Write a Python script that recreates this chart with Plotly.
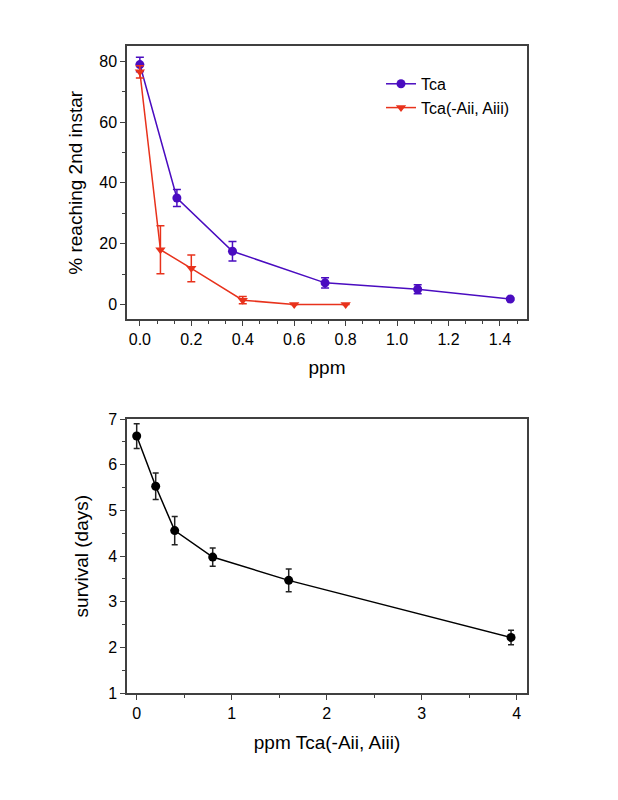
import plotly.graph_objects as go

# ---- data: top panel ----
tca_x = [0, 0.144, 0.36, 0.72, 1.08, 1.44]
tca_y = [78.9, 35.0, 17.5, 7.1, 5.0, 1.8]
tca_err = [2.4, 2.8, 3.2, 1.7, 1.5, 0.3]

tcam_x = [0, 0.08, 0.2, 0.4, 0.6, 0.8]
tcam_y = [76.5, 18.0, 11.9, 1.4, 0.0, 0.0]
tcam_err = [2.0, 7.9, 4.4, 1.2, 0, 0]

# ---- data: bottom panel ----
surv_x = [0, 0.2, 0.4, 0.8, 1.6, 3.94]
surv_y = [6.63, 5.53, 4.56, 3.98, 3.47, 2.22]
surv_err = [0.27, 0.29, 0.31, 0.2, 0.25, 0.16]

PURPLE = "#4a0cc0"
RED = "#e8321c"
FONT = "Liberation Sans, Arial, sans-serif"
AX = "#404040"

fig = go.Figure()
fig.add_trace(go.Scatter(
    x=tca_x, y=tca_y, name="Tca", mode="lines+markers",
    line=dict(color=PURPLE, width=1.5),
    marker=dict(symbol="circle", size=9, color=PURPLE),
    error_y=dict(type="data", array=tca_err, color=PURPLE, thickness=1.5, width=4),
    xaxis="x", yaxis="y"))
fig.add_trace(go.Scatter(
    x=tcam_x, y=tcam_y, name="Tca(-Aii, Aiii)", mode="lines+markers",
    line=dict(color=RED, width=1.5),
    marker=dict(symbol="triangle-down", size=9, color=RED),
    error_y=dict(type="data", array=tcam_err, color=RED, thickness=1.5, width=4),
    xaxis="x", yaxis="y"))
fig.add_trace(go.Scatter(
    x=surv_x, y=surv_y, name="survival", mode="lines+markers", showlegend=False,
    line=dict(color="black", width=1.5),
    marker=dict(symbol="circle", size=9, color="black"),
    error_y=dict(type="data", array=surv_err, color="#222", thickness=1.5, width=3),
    xaxis="x2", yaxis="y2"))

# page body has an 8px default margin, so the figure starts at (8, 8)
OFF = 8
W, H = 618 - OFF, 800 - OFF


def xf(px):
    return (px - OFF) / W


def yf(px):
    return 1 - (px - OFF) / H


xdom = [xf(127), xf(527)]
common = dict(showline=True, linecolor=AX, linewidth=1.5, mirror=True,
              ticks="outside", ticklen=5, tickcolor=AX, tickwidth=1,
              showgrid=False, zeroline=False,
              tickfont=dict(family=FONT, size=16, color="black"))

fig.update_layout(
    width=W, height=H,
    margin=dict(l=0, r=0, t=0, b=0),
    paper_bgcolor="white", plot_bgcolor="white",
    font=dict(family=FONT, color="black"),
    xaxis=dict(domain=xdom, anchor="y", range=[-0.05, 1.505],
               tickmode="array", tickvals=[0, 0.2, 0.4, 0.6, 0.8, 1.0, 1.2, 1.4],
               ticktext=["0.0", "0.2", "0.4", "0.6", "0.8", "1.0", "1.2", "1.4"],
               minor=dict(dtick=0.2 / 3, tick0=0, ticks="outside", ticklen=3, tickcolor=AX),
               title=dict(text="ppm", font=dict(size=19), standoff=13),
               **common),
    yaxis=dict(domain=[yf(318), yf(39)], anchor="x", range=[-4.9, 84.9],
               tickvals=[0, 20, 40, 60, 80],
               minor=dict(dtick=10, tick0=0, ticks="outside", ticklen=3, tickcolor=AX),
               title=dict(text="% reaching 2nd instar", font=dict(size=19), standoff=12),
               **common),
    xaxis2=dict(domain=xdom, anchor="y2", range=[-0.102, 4.108],
                tickvals=[0, 1, 2, 3, 4],
                minor=dict(dtick=0.5, tick0=0, ticks="outside", ticklen=3, tickcolor=AX),
                title=dict(text="ppm Tca(-Aii, Aiii)", font=dict(size=19), standoff=15),
                **common),
    yaxis2=dict(domain=[yf(700), yf(420)], anchor="x2", range=[1, 7],
                tickvals=[1, 2, 3, 4, 5, 6, 7],
                minor=dict(dtick=0.5, tick0=0, ticks="outside", ticklen=3, tickcolor=AX),
                title=dict(text="survival (days)", font=dict(size=19), standoff=14),
                **common),
    legend=dict(x=xf(381), y=yf(60), xanchor="left", yanchor="top",
                bgcolor="rgba(0,0,0,0)", font=dict(family=FONT, size=16),
                tracegroupgap=0),
)

fig.write_html("out.html")
